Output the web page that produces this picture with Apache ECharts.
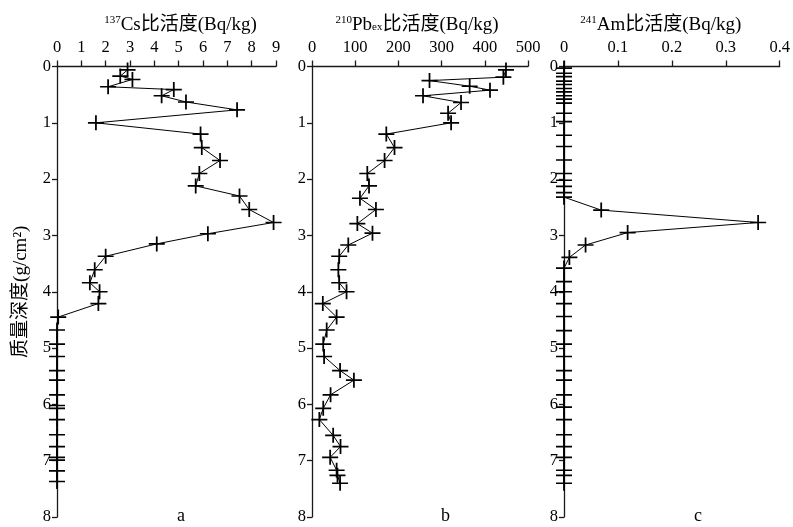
<!DOCTYPE html>
<html><head><meta charset="utf-8">
<script src="https://cdn.jsdelivr.net/npm/echarts@6/dist/echarts.min.js"></script>
<style>html,body{margin:0;padding:0;background:#fff}#c{width:793px;height:527px}</style>
</head><body><div id="c"></div>
<script>
// ---- data ----
const depthCs = [0.06,0.17,0.23,0.36,0.41,0.52,0.63,0.77,1.00,1.20,1.44,1.67,1.90,2.12,2.30,2.54,2.77,2.97,3.15,3.37,3.61,3.84,4.00,4.21,4.45,4.68,4.93,5.15,5.40,5.57,5.83,6.02,6.07,6.27,6.54,6.75,6.94,6.99,7.18,7.37];
const cs137   = [2.9,2.6,3.1,2.1,4.8,4.3,5.3,7.4,1.6,5.9,5.95,6.7,5.85,5.7,7.5,7.9,8.9,6.2,4.1,2.0,1.55,1.35,1.75,1.7,0.05,0,0,0,0,0,0,0,0,0,0,0,0,0,0,0];

const depthPb = [0.06,0.19,0.25,0.35,0.42,0.52,0.64,0.83,1.00,1.20,1.44,1.67,1.90,2.12,2.34,2.54,2.79,2.96,3.17,3.37,3.61,3.84,4.00,4.21,4.45,4.68,4.93,5.15,5.40,5.57,5.83,6.07,6.27,6.55,6.75,6.94,7.17,7.26,7.40];
const pb210   = [449,443,272,365,412,257,345,315,322,172,191,168,128,132,111,148,105,140,84,63,61,63,80,25,57,34,26,28,65,97,43,26,17,49,66,42,57,59,65];

const depthAm = [0.03,0.12,0.18,0.26,0.32,0.39,0.45,0.52,0.58,0.65,0.83,0.98,1.22,1.42,1.66,1.90,2.02,2.13,2.24,2.32,2.55,2.77,2.95,3.17,3.39,3.58,3.82,4.00,4.21,4.44,4.69,4.93,5.15,5.40,5.57,5.83,6.05,6.27,6.54,6.75,6.94,7.17,7.26,7.40];
const am241   = [0,0,0,0,0,0,0,0,0,0,0,0,0,0,0,0,0,0,0,0,0.069,0.36,0.118,0.040,0.010,0,0,0,0,0,0,0,0,0,0,0,0,0,0,0,0,0,0,0];

const xTicksCs = {min:0,max:9,interval:1};
const xTicksPb = {min:0,max:500,interval:100};
const xTicksAm = {min:0,max:0.4,interval:0.1};
const depthTicks = {min:0,max:8,interval:1};

const nameCs = '{sup|137}Cs比活度(Bq/kg)';
const namePb = '{sup|210}Pb{sub|ex}比活度(Bq/kg)';
const nameAm = '{sup|241}Am比活度(Bq/kg)';
const nameDepth = '质量深度(g/cm²)';
const panelLabels = ['a','b','c'];

// ---- chart ----
const FONT = '"Liberation Serif","Noto Sans CJK SC",serif';
const AX = '#1a1a1a';
const plus = 'path://M0,4.45H10V5.55H0Z M4.45,0H5.55V10H4.45Z';
const rich = {sup:{fontSize:11,fontFamily:FONT,color:'#000',verticalAlign:'top',padding:[0,0,9,0]},
              sub:{fontSize:11,fontFamily:FONT,color:'#000',padding:[6,0,0,0]}};

function xAxis(i, t, name, shift){
  return {gridIndex:i, type:'value', position:'top', min:t.min, max:t.max, interval:t.interval,
    name:name, nameLocation:'middle', nameGap:30,
    nameTextStyle:{fontFamily:FONT,fontSize:19,color:'#000',rich:rich,padding:[0,0,0,shift]},
    axisLine:{show:true,onZero:false,lineStyle:{color:AX,width:1.3}},
    axisTick:{show:true,inside:false,length:6,lineStyle:{color:AX,width:1.3}},
    axisLabel:{fontFamily:FONT,fontSize:16.5,color:'#000',margin:11},
    splitLine:{show:false}};
}
function yAxis(i, withName){
  const a = {gridIndex:i, type:'value', inverse:true, min:depthTicks.min, max:depthTicks.max, interval:depthTicks.interval,
    position:'left',
    axisLine:{show:true,onZero:false,lineStyle:{color:AX,width:1.3}},
    axisTick:{show:true,inside:false,length:5,lineStyle:{color:AX,width:1.3}},
    axisLabel:{fontFamily:FONT,fontSize:16.5,color:'#000',margin:6},
    splitLine:{show:false}};
  if(withName){
    a.name = withName; a.nameLocation='middle'; a.nameGap=26; a.nameRotate=90;
    a.nameTextStyle={fontFamily:FONT,fontSize:19,color:'#000'};
  }
  return a;
}
function series(i, vals, depths){
  return {type:'line', xAxisIndex:i, yAxisIndex:i, data:vals.map((v,k)=>[v,depths[k]]),
    symbol:plus, symbolSize:[16,15], showAllSymbol:true,
    lineStyle:{color:'#000',width:1}, itemStyle:{color:'#000'}, z:3};
}

const chart = echarts.init(document.getElementById('c'), null, {renderer:'canvas'});
chart.setOption({
  animation:false,
  backgroundColor:'#fff',
  grid:[
    {left:57, top:66.5, width:219, height:450.5},
    {left:312, top:66.5, width:216, height:450.5},
    {left:564, top:66.5, width:216, height:450.5}
  ],
  xAxis:[xAxis(0,xTicksCs,nameCs,28), xAxis(1,xTicksPb,namePb,-6), xAxis(2,xTicksAm,nameAm,-22)],
  yAxis:[yAxis(0,nameDepth), yAxis(1,null), yAxis(2,null)],
  series:[series(0,cs137,depthCs), series(1,pb210,depthPb), series(2,am241,depthAm)],
  graphic:[
    {type:'text', left:177, top:507, style:{text:panelLabels[0], font:'18px '+FONT, fill:'#000'}},
    {type:'text', left:441, top:507, style:{text:panelLabels[1], font:'18px '+FONT, fill:'#000'}},
    {type:'text', left:694, top:507, style:{text:panelLabels[2], font:'18px '+FONT, fill:'#000'}}
  ]
});
</script></body></html>
